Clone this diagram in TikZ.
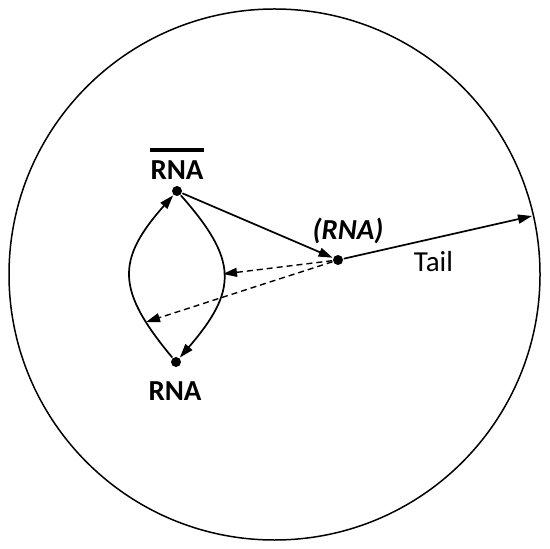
\documentclass[tikz,border=0pt]{standalone}
\usepackage{fontspec}
\setmainfont{Carlito}
\usepackage{tikz}
\usetikzlibrary{arrows.meta}

\begin{document}
\begin{tikzpicture}[x=0.5pt,y=-0.5pt,
  line width=0.85pt,
  dot/.style={circle,fill,inner sep=0pt,minimum size=5pt},
  lbl/.style={inner sep=0pt,font=\fontsize{14.5}{16}\selectfont},
  arr/.style={-{Triangle[length=7pt,width=4.5pt]}},
  dsh/.style={arr,line width=0.7pt,dash pattern=on 3pt off 2pt}]
\useasboundingbox (0,0) rectangle (550,549);
\draw[line width=0.75pt] (274.5,274.5) circle[radius=265.5];
\node[dot] (top) at (177,191) {};
\node[dot] (bot) at (176,362) {};
\node[dot] (mid) at (338,260) {};
\coordinate (rhit) at (223,274);
\coordinate (lhit) at (146,322);
\coordinate (tailend) at (532,216);
\node[lbl,font=\fontsize{14.5}{16}\selectfont\bfseries] (rnabar) at (177,170) {RNA};
\draw[line width=2pt] ([yshift=4.8pt]rnabar.north west) -- ([yshift=4.8pt]rnabar.north east);
\node[lbl,font=\fontsize{14.5}{16}\selectfont\bfseries] (rna) at (175,391.5) {RNA};
\node[lbl,font=\fontsize{14.5}{16}\selectfont\bfseries\itshape] (rnapar) at (348,231) {(RNA)};
\node[lbl] (tail) at (433.5,262) {Tail};
% lens
\draw[arr] (bot) .. controls (116,290) and (116,260) .. (top);
\draw[arr] (top) .. controls (238,260) and (238,290) .. (bot);
\draw[arr] (top) -- (mid);
\draw[dsh] (mid) -- (rhit);
\draw[dsh] (mid) -- (lhit);
\draw[arr] (mid) -- (tailend);
\end{tikzpicture}
\end{document}
